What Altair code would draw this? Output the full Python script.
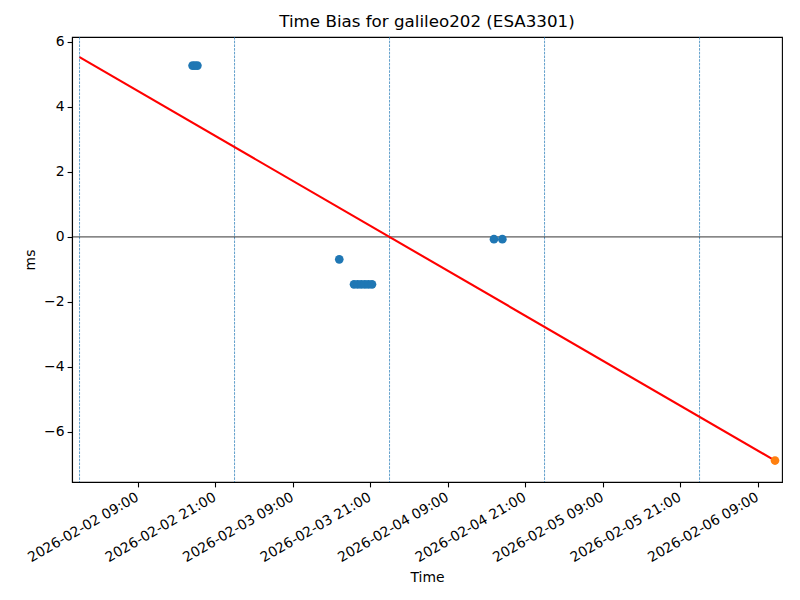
import altair as alt
import pandas as pd

# ---- data ----
blue_times = [
    "2026-02-02T17:30:00Z", "2026-02-02T17:52:00Z", "2026-02-02T18:15:00Z",
    "2026-02-03T16:13:00Z",
    "2026-02-03T18:30:00Z", "2026-02-03T19:04:00Z", "2026-02-03T19:37:00Z",
    "2026-02-03T20:11:00Z", "2026-02-03T20:44:00Z", "2026-02-03T21:17:00Z",
    "2026-02-04T16:10:00Z", "2026-02-04T17:28:00Z",
]
blue_ms = [5.27, 5.27, 5.27, -0.69, -1.46, -1.46, -1.46, -1.46, -1.46, -1.46, -0.07, -0.07]

fit_times = ["2026-02-02T00:00:00Z", "2026-02-06T11:41:00Z"]
fit_ms = [5.53, -6.88]

last_time = ["2026-02-06T11:41:00Z"]
last_ms = [-6.88]

day_lines = ["2026-02-02T00:00:00Z", "2026-02-03T00:00:00Z", "2026-02-04T00:00:00Z",
             "2026-02-05T00:00:00Z", "2026-02-06T00:00:00Z"]

tick_days = [2, 2, 3, 3, 4, 4, 5, 5, 6]
tick_hours = [9, 21, 9, 21, 9, 21, 9, 21, 9]
y_ticks = [-6, -4, -2, 0, 2, 4, 6]

title_text = "Time Bias for galileo202 (ESA3301)"

# ---- tables ----
blue_df = pd.DataFrame({"t": blue_times, "ms": blue_ms})
fit_df = pd.DataFrame({"t": fit_times, "ms": fit_ms})
last_df = pd.DataFrame({"t": last_time, "ms": last_ms})
day_df = pd.DataFrame({"t": day_lines})
zero_df = pd.DataFrame({"ms": [0]})

FONT = "DejaVu Sans"

x_scale = alt.Scale(
    type="utc",
    domain=[alt.DateTime(year=2026, month=2, date=1, hours=22, minutes=50, utc=True),
            alt.DateTime(year=2026, month=2, date=6, hours=12, minutes=46, utc=True)],
    nice=False,
)
y_scale = alt.Scale(domain=[-7.54, 6.15], nice=False, zero=False)

x_axis = alt.Axis(
    title="Time",
    values=[alt.DateTime(year=2026, month=2, date=d, hours=h, utc=True)
            for d, h in zip(tick_days, tick_hours)],
    labelExpr="utcFormat(datum.value, '%Y-%m-%d %H:%M')",
    labelAngle=-30,
    labelAlign="right",
    labelBaseline="top",
    labelOffset=-4,
    labelPadding=3,
    labelOverlap=False,
    labelBound=False,
    labelFlush=False,
    grid=False,
    titleY=95,
    titleBaseline="middle",
)
y_axis = alt.Axis(
    title="ms",
    values=y_ticks,
    format="d",
    grid=False,
    labelPadding=3,
    titleX=-42,
    titleBaseline="middle",
)

X = alt.X("t:T", scale=x_scale, axis=x_axis)
Y = alt.Y("ms:Q", scale=y_scale, axis=y_axis)

vlines = alt.Chart(day_df).mark_rule(
    color="#1f77b4", strokeWidth=0.7, strokeDash=[2.6, 1.1]
).encode(x=X)

hline = alt.Chart(zero_df).mark_rule(color="black", strokeWidth=0.8).encode(y=Y)

fit = alt.Chart(fit_df).mark_line(color="red", strokeWidth=2.1).encode(x=X, y=Y)

blue = alt.Chart(blue_df).mark_circle(color="#1f77b4", opacity=1, size=75).encode(x=X, y=Y)

last = alt.Chart(last_df).mark_circle(color="#ff7f0e", opacity=1, size=75).encode(x=X, y=Y)

chart = alt.layer(vlines, hline, fit, blue, last).properties(
    width=710,
    height=445,
    background="white",
    title=alt.TitleParams(title_text, fontSize=16.7, font=FONT, fontWeight="normal",
                          color="black", offset=4, anchor="middle"),
    autosize=alt.AutoSizeParams(type="none"),
    padding={"left": 64, "top": 29, "right": 10, "bottom": 110},
).configure_view(
    stroke="black", strokeWidth=1.1
).configure_axis(
    labelFont=FONT, titleFont=FONT, labelFontSize=13.9, titleFontSize=13.9,
    labelColor="black", titleColor="black", titleFontWeight="normal",
    domainColor="black", domainWidth=1.1, tickColor="black", tickWidth=1.1, tickSize=4.9,
)

chart.save("out.html", embed_options={"renderer": "svg", "actions": False})
